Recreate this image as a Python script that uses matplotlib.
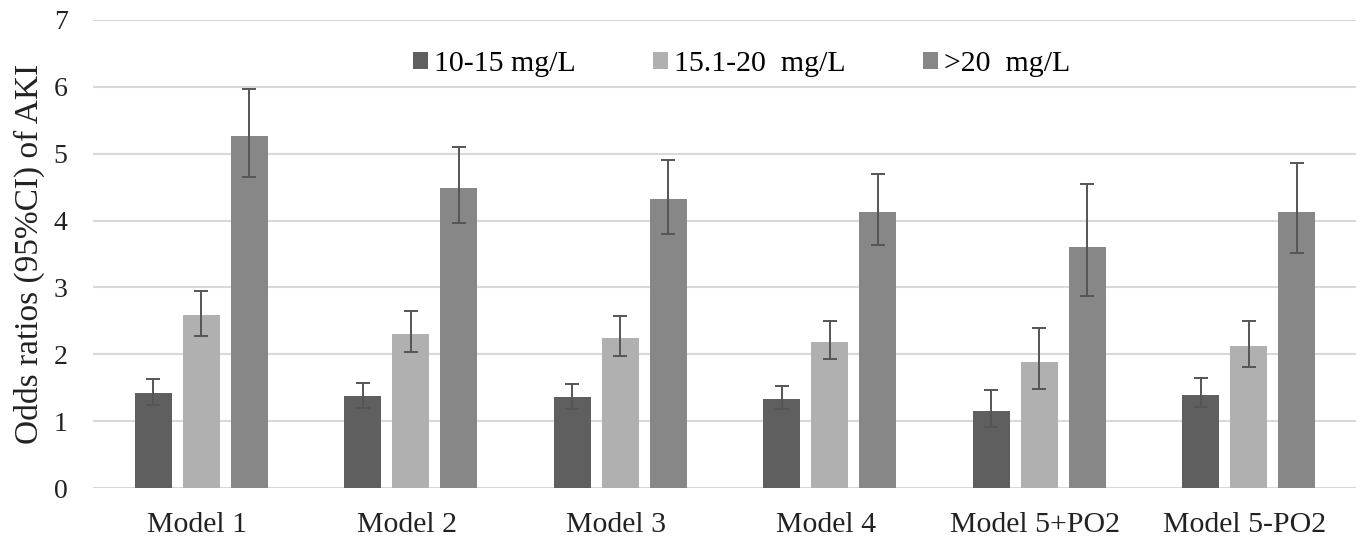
import matplotlib
matplotlib.use('Agg')
import matplotlib.pyplot as plt
import numpy as np

# values
models = ['Model 1', 'Model 2', 'Model 3', 'Model 4', 'Model 5+PO2', 'Model 5-PO2']
labels = ['10-15 mg/L', '15.1-20  mg/L', '>20  mg/L']

or_low = [1.42, 1.37, 1.355, 1.335, 1.15, 1.39]
or_mid = [2.59, 2.31, 2.25, 2.185, 1.885, 2.12]
or_high = [5.26, 4.48, 4.315, 4.13, 3.605, 4.13]

ci_low_lo = [1.25, 1.20, 1.19, 1.18, 0.91, 1.21]
ci_low_hi = [1.63, 1.57, 1.555, 1.53, 1.47, 1.65]
ci_mid_lo = [2.28, 2.03, 1.975, 1.925, 1.485, 1.81]
ci_mid_hi = [2.94, 2.65, 2.575, 2.50, 2.40, 2.50]
ci_high_lo = [4.65, 3.96, 3.805, 3.635, 2.87, 3.52]
ci_high_hi = [5.96, 5.10, 4.90, 4.70, 4.545, 4.86]

colors = ['#5f5f5f', '#b0b0b0', '#878787']

plt.rcParams['font.family'] = ['Liberation Serif', 'DejaVu Serif']

fig = plt.figure(figsize=(13.61, 5.37), dpi=100)
ax = fig.add_axes([0.068, 0.091, 0.928, 0.872])

x = np.arange(len(models))
w = 0.177
step = 0.229
series = [(or_low, ci_low_lo, ci_low_hi), (or_mid, ci_mid_lo, ci_mid_hi), (or_high, ci_high_lo, ci_high_hi)]
for i, (vals, lo, hi) in enumerate(series):
    vals = np.array(vals)
    err = [vals - np.array(lo), np.array(hi) - vals]
    ax.bar(x + (i - 1) * step + 0.02, vals, w, color=colors[i], label=labels[i], zorder=2)
    ax.errorbar(x + (i - 1) * step + 0.02, vals, yerr=err, fmt='none', ecolor='#555555',
                elinewidth=1.4, capsize=5, capthick=1.4, zorder=3)

ax.set_xlim(-0.5, 5.53)
ax.set_ylim(0, 7)
ax.set_yticks(range(8))
ax.yaxis.grid(True, color='#d9d9d9', linewidth=1.5, zorder=0)
ax.set_axisbelow(True)
for s in ax.spines.values():
    s.set_visible(False)
ax.tick_params(axis='both', length=0, colors='#222222')
ax.tick_params(axis='y', pad=18, labelsize=20)
ax.tick_params(axis='x', pad=17, labelsize=21.5)
ax.set_xticks(x)
ax.set_xticklabels(models)
ax.set_ylabel('Odds ratios (95%CI) of AKI', fontsize=24, color='#222222')
ax.yaxis.set_label_coords(-0.038, 0.5)

ax.legend(loc='center', bbox_to_anchor=(0.514, 0.905), ncol=3, frameon=False,
          fontsize=21.5, handlelength=0.5, handleheight=0.5, handletextpad=0.2, columnspacing=2.6)

fig.savefig('out.png', dpi=100)
